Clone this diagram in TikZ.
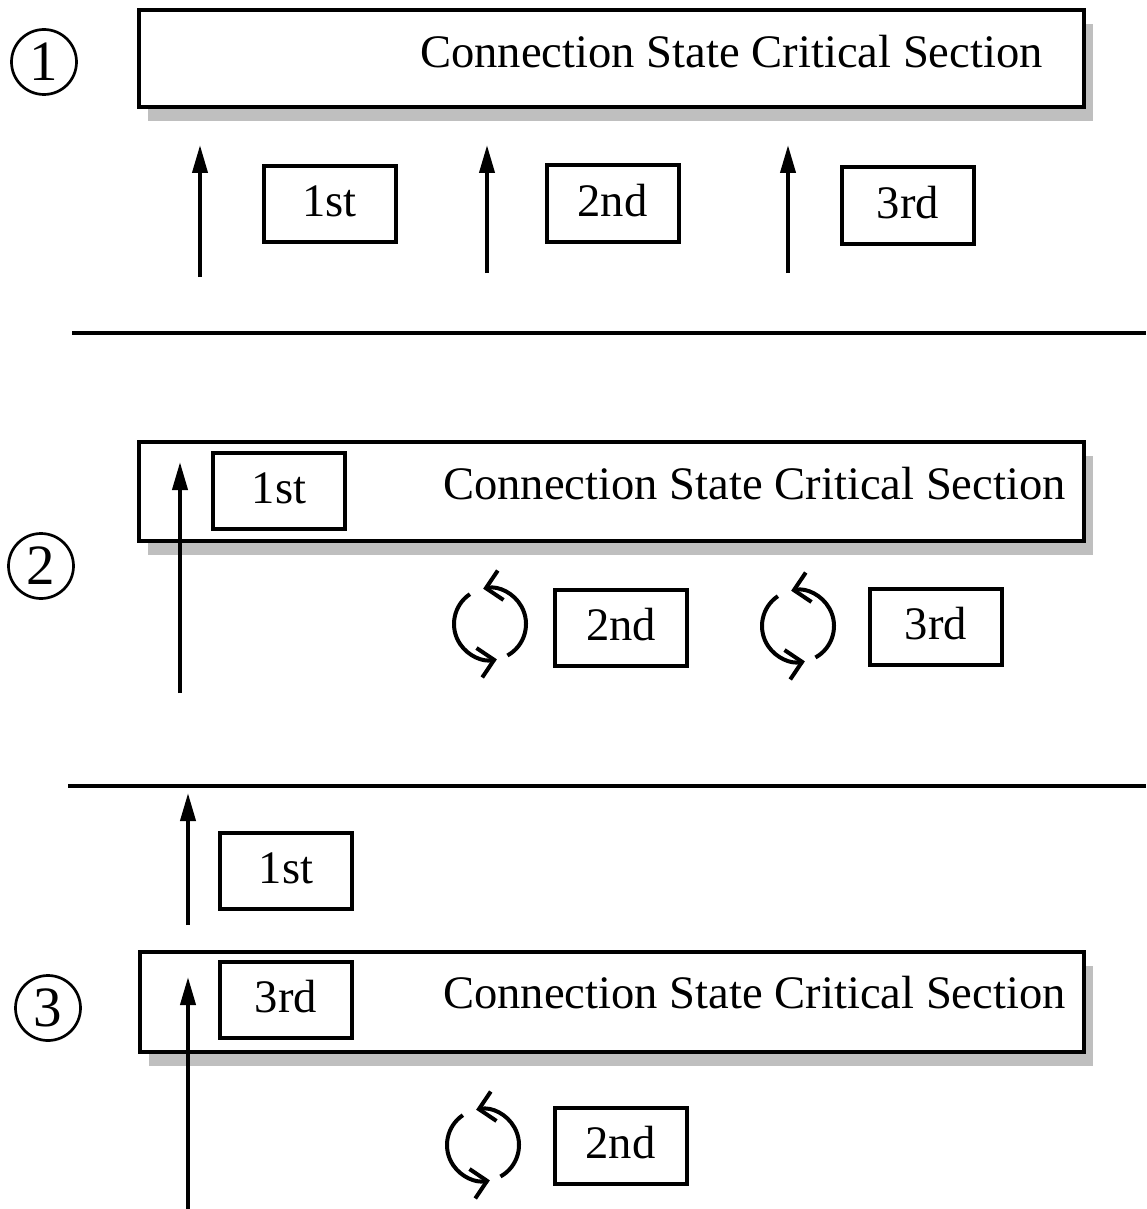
\documentclass[tikz,border=0pt]{standalone}
\usepackage{fontspec}
\setmainfont{Liberation Serif}
\usetikzlibrary{arrows.meta,shadows}
\tikzset{
  bigbox/.style={draw, line width=4pt, fill=white, inner sep=0pt,
    minimum width=945pt, minimum height=97pt,
    drop shadow={shadow xshift=9pt, shadow yshift=-14pt, fill=black!25, opacity=1}},
  smallbox/.style={draw, line width=4pt, fill=white, inner sep=0pt,
    minimum width=132pt, minimum height=76pt, text height=31.5pt, text depth=6pt,
    font=\fontsize{46.6}{50}\selectfont},
  lbl/.style={inner sep=0pt, anchor=base west, font=\fontsize{46.6}{50}\selectfont},
  circnum/.style={draw, circle, line width=2.7pt, inner sep=0pt, minimum size=65pt,
    font=\fontsize{57}{60}\selectfont},
  flow/.style={line width=4pt, -{Triangle[length=28pt,width=15pt]}},
  cyc/.style={line width=4pt, -{Straight Barb[length=15pt,width=30pt,line width=4pt]}},
  divider/.style={line width=4pt}
}
\begin{document}
\begin{tikzpicture}[x=1pt,y=-1pt]
\useasboundingbox (0,0) rectangle (1146,1209);

% ---------- Section 1 ----------
\node[circnum] (n1) at (44,62) {1};
\node[bigbox] (b1) at (611,58.5) {};
\node[lbl] (t1) at (420,68) {Connection State Critical Section};
\node[smallbox] (s11) at (329.5,204) {1st};
\node[smallbox] (s12) at (612.5,203.5) {2nd};
\node[smallbox] (s13) at (908,205.5) {3rd};
\coordinate (a11s) at (200,277); \coordinate (a11e) at (200,145);
\coordinate (a12s) at (487,273); \coordinate (a12e) at (487,145);
\coordinate (a13s) at (788,273); \coordinate (a13e) at (788,145);
\draw[flow] (a11s) -- (a11e);
\draw[flow] (a12s) -- (a12e);
\draw[flow] (a13s) -- (a13e);

\coordinate (d1s) at (72,333); \coordinate (d1e) at (1146,333);
\draw[divider] (d1s) -- (d1e);

% ---------- Section 2 ----------
\node[circnum] (n2) at (41,566) {2};
\node[bigbox, minimum height=99pt] (b2) at (611,491) {};
\node[lbl] (t2) at (443,499) {Connection State Critical Section};
\node[smallbox] (s21) at (279,491) {1st};
\node[smallbox] (s22) at (621,628) {2nd};
\node[smallbox] (s23) at (936,627) {3rd};
\coordinate (a21s) at (180,693); \coordinate (a21e) at (180,462);
\draw[flow] (a21s) -- (a21e);

\coordinate (c21) at (490,624);
\draw[cyc] ([shift={(-124:36)}]c21) arc[start angle=-124, end angle=-281, radius=36];
\draw[cyc] ([shift={(61:36)}]c21) arc[start angle=61, end angle=-101, radius=36];
\coordinate (c22) at (798,626);
\draw[cyc] ([shift={(-124:36)}]c22) arc[start angle=-124, end angle=-281, radius=36];
\draw[cyc] ([shift={(61:36)}]c22) arc[start angle=61, end angle=-101, radius=36];

\coordinate (d2s) at (68,786); \coordinate (d2e) at (1146,786);
\draw[divider] (d2s) -- (d2e);

% ---------- Section 3 ----------
\node[smallbox] (s31) at (286,871) {1st};
\coordinate (a31s) at (188,925); \coordinate (a31e) at (188,793);
\draw[flow] (a31s) -- (a31e);

\node[circnum] (n3) at (48,1008) {3};
\node[bigbox, minimum height=100pt, minimum width=944pt] (b3) at (611.5,1001.5) {};
\node[lbl] (t3) at (443,1008) {Connection State Critical Section};
\node[smallbox] (s33) at (286,1000) {3rd};
\node[smallbox] (s32) at (620.5,1146) {2nd};
\coordinate (a32s) at (188,1209); \coordinate (a32e) at (188,977);
\draw[flow] (a32s) -- (a32e);

\coordinate (c31) at (483,1145);
\draw[cyc] ([shift={(-124:36)}]c31) arc[start angle=-124, end angle=-281, radius=36];
\draw[cyc] ([shift={(61:36)}]c31) arc[start angle=61, end angle=-101, radius=36];
\end{tikzpicture}
\end{document}
